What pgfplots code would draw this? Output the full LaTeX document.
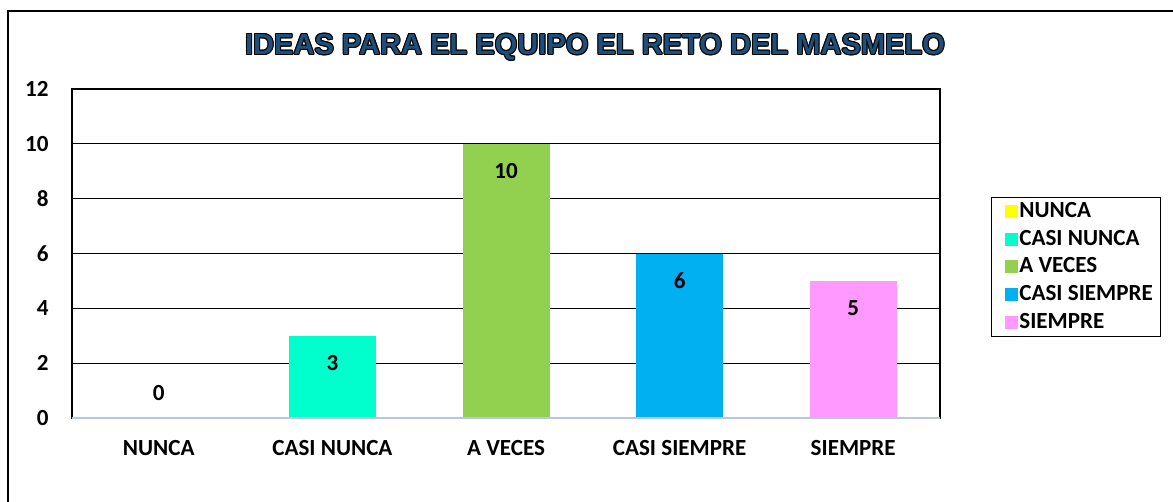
\documentclass[border=0pt]{standalone}
\usepackage{fontspec}
\setmainfont{Carlito}
\newfontfamily\titlefont{Liberation Sans}
\usepackage{pgfplots}
\pgfplotsset{compat=1.18}
\definecolor{cNunca}{HTML}{FFFF00}
\definecolor{cCasiNunca}{HTML}{00FFCC}
\definecolor{cAVeces}{HTML}{92D050}
\definecolor{cCasiSiempre}{HTML}{00B0F0}
\definecolor{cSiempre}{HTML}{FF99FF}
\definecolor{titleblue}{HTML}{1F4E79}
\definecolor{axisgray}{HTML}{B8C6DE}
\newcommand{\ttl}{\titlefont\bfseries\fontsize{21.8}{24}\selectfont IDEAS PARA EL EQUIPO EL RETO DEL MASMELO}
\newcommand{\lblfont}{\bfseries\fontsize{17.3}{20}\selectfont}
\pgfplotsset{
  sq legend/.style={legend image code/.code={\path (0pt,0pt) (14.8pt,0pt); \fill[##1] (5pt,-4.9pt) rectangle (14.8pt,4.9pt);}},
  lbl in/.style={nodes near coords, every node near coord/.append style={font=\lblfont, anchor=center, yshift=-20.25pt}},
  lbl out/.style={nodes near coords, every node near coord/.append style={font=\lblfont, anchor=center, yshift=18.75pt}},
}
\begin{document}
\begin{tikzpicture}
\path[use as bounding box] (0,0) rectangle (879.75pt,375.75pt);
\begin{scope}
\clip (0,0) rectangle (879.75pt,375.75pt);
\draw[line width=0.9pt] (6pt,-5pt) -- (6pt,367.5pt) -- (890pt,367.5pt);
\end{scope}
\foreach \dx/\dy in {0.8/0,-0.8/0,0/0.8,0/-0.8,0.57/0.57,-0.57/0.57,0.57/-0.57,-0.57/-0.57}
  \node[text=black] at (446.25pt+\dx pt, 340.5pt+\dy pt) {\ttl};
\node[text=titleblue] at (446.25pt,340.5pt) {\ttl};
\begin{axis}[
  at={(54pt,62.25pt)}, anchor=south west,
  scale only axis, width=651pt, height=246.75pt,
  xmin=-0.5, xmax=4.5, ymin=0, ymax=12,
  ytick={0,2,...,12}, xtick={0,1,2,3,4},
  xticklabels={NUNCA,CASI NUNCA,A VECES,CASI SIEMPRE,SIEMPRE},
  major tick length=0pt,
  ymajorgrids, grid style={black, line width=0.9pt},
  axis line style={black, line width=0.9pt},
  /pgf/number format/assume math mode=true,
  ticklabel style={font=\lblfont},
  yticklabel style={anchor=east, xshift=-14pt},
  xticklabel style={anchor=center, yshift=-22.5pt},
  ybar, bar width=65.25pt, bar shift=0pt,
  legend style={at={(1.0588,0.6717)}, anchor=north west, draw=black, line width=0.9pt,
    font=\lblfont, inner xsep=5pt, inner ysep=2pt, row sep=3.75pt,
    nodes={inner sep=1pt, text height=12pt, text depth=3pt}},
  legend cell align=left,
  after end axis/.code={\draw[axisgray, line width=1.1pt] (rel axis cs:0,0) -- (rel axis cs:1,0);},
]
\addplot[fill=cNunca, draw=none, sq legend, lbl out] coordinates {(0,0)};
\addplot[fill=cCasiNunca, draw=none, sq legend, lbl in] coordinates {(1,3)};
\addplot[fill=cAVeces, draw=none, sq legend, lbl in] coordinates {(2,10)};
\addplot[fill=cCasiSiempre, draw=none, sq legend, lbl in] coordinates {(3,6)};
\addplot[fill=cSiempre, draw=none, sq legend, lbl in] coordinates {(4,5)};
\legend{NUNCA,CASI NUNCA,A VECES,CASI SIEMPRE,SIEMPRE}
\end{axis}
\end{tikzpicture}
\end{document}
